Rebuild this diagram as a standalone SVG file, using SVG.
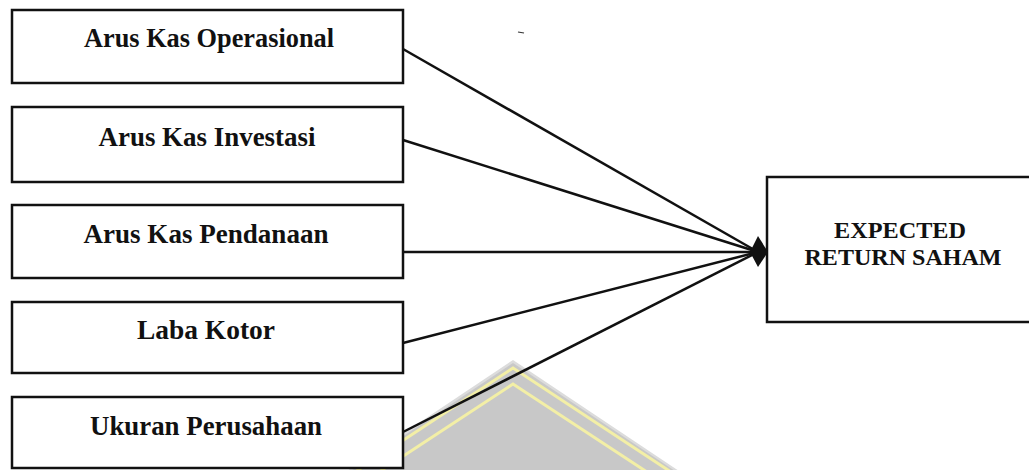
<svg xmlns="http://www.w3.org/2000/svg" width="1029" height="470" viewBox="0 0 1029 470">
<style>
.box{fill:#fff;stroke:#111;stroke-width:2.5}
.lbl{font-family:"Liberation Serif","Times New Roman",serif;font-weight:bold;font-size:27px;fill:#111;text-anchor:middle}
.lbl2{font-family:"Liberation Serif","Times New Roman",serif;font-weight:bold;font-size:24px;fill:#111;text-anchor:middle}
.con{stroke:#111;stroke-width:2.5;fill:none}
</style>
<rect width="1029" height="470" fill="#fff"/>
<g id="watermark">
<polygon points="513,360 347,471 679,471" fill="#dcdcdc"/>
<polygon points="513,363 351,471 675,471" fill="#c8c8c8"/>
<polyline points="352,474 513,368 674,474" fill="none" stroke="#f3efa6" stroke-width="3"/>
<polyline points="376,474 513,384 650,474" fill="none" stroke="#f3efa6" stroke-width="3"/>
</g>
<line x1="518" y1="32" x2="524" y2="33" stroke="#333" stroke-width="1.2"/>
<g id="node1"><rect class="box" x="12" y="10" width="391" height="73"/><text class="lbl" x="209" y="47" textLength="250" lengthAdjust="spacingAndGlyphs">Arus Kas Operasional</text></g>
<g id="node2"><rect class="box" x="12" y="107" width="391" height="75"/><text class="lbl" x="207" y="146" textLength="217" lengthAdjust="spacingAndGlyphs">Arus Kas Investasi</text></g>
<g id="node3"><rect class="box" x="12" y="205" width="391" height="73"/><text class="lbl" x="206" y="243" textLength="245" lengthAdjust="spacingAndGlyphs">Arus Kas Pendanaan</text></g>
<g id="node4"><rect class="box" x="12" y="302" width="391" height="71"/><text class="lbl" x="206" y="339" textLength="138" lengthAdjust="spacingAndGlyphs">Laba Kotor</text></g>
<g id="node5"><rect class="box" x="12" y="397" width="391" height="71"/><text class="lbl" x="206" y="435" textLength="232" lengthAdjust="spacingAndGlyphs">Ukuran Perusahaan</text></g>
<g id="node6"><rect class="box" x="767" y="177" width="280" height="145"/><text class="lbl2" x="900" y="238" textLength="132" lengthAdjust="spacingAndGlyphs">EXPECTED</text><text class="lbl2" x="903" y="265" textLength="197" lengthAdjust="spacingAndGlyphs">RETURN SAHAM</text></g>
<g id="connectors">
<line class="con" x1="403" y1="49" x2="758" y2="252"/>
<line class="con" x1="403" y1="140" x2="758" y2="252"/>
<line class="con" x1="403" y1="252" x2="758" y2="252"/>
<line class="con" x1="403" y1="343" x2="758" y2="252"/>
<line class="con" x1="403" y1="432" x2="758" y2="252"/>
<polygon points="768,252 758,236 750,252 758,267" fill="#111"/>
</g>
</svg>
